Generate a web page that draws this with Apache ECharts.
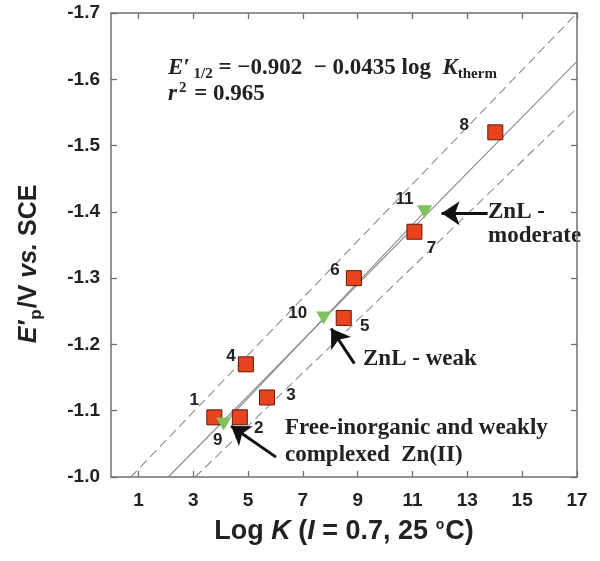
<!DOCTYPE html>
<html>
<head>
<meta charset="utf-8">
<script src="https://cdn.jsdelivr.net/npm/echarts@6/dist/echarts.min.js"></script>
<style>
  html, body { margin: 0; padding: 0; background: #fff; }
  #main { width: 600px; height: 561px; }
</style>
</head>
<body>
<div id="main"></div>
<script>
// squares: [log K, E'p, label]
const squarePoints = [
  [3.77, -1.09, '1'],
  [4.70, -1.09, '2'],
  [5.69, -1.12, '3'],
  [4.92, -1.17, '4'],
  [8.49, -1.24, '5'],
  [8.86, -1.30, '6'],
  [11.07, -1.37, '7'],
  [14.02, -1.52, '8']
];
// triangles (ZnL complexes)
const trianglePoints = [
  [4.11, -1.08, '9'],
  [7.76, -1.24, '10'],
  [11.44, -1.40, '11']
];
// fit line and confidence band end points
const fitLine = [[2.09, -1.0], [17, -1.627]];
const upperBand = [[0.72, -1.0], [17, -1.70]];
const lowerBand = [[3.07, -1.0], [17, -1.5565]];
const complexLine = [[4.11, -1.08], [11.44, -1.40]];

const xTicks = [1, 3, 5, 7, 9, 11, 13, 15, 17];

// label offsets (px) for the point numbers
const squareOffsets = [[-20, -17], [19, 11], [24, -2], [-15, -8], [21, 8], [-19, -8], [17, 17], [-31, -7]];
const triangleOffsets = [[-6, 16], [-26, -5], [-20, -13]];

const myChart = echarts.init(document.getElementById('main'));

const serif = '"Liberation Serif", "DejaVu Serif", serif';
const sans = '"Liberation Sans", Arial, sans-serif';
const axisColor = '#707070';

function numLabel(off) {
  return {
    show: true, position: 'inside', offset: off,
    formatter: p => p.value[2],
    color: '#222', fontFamily: sans, fontWeight: 'bold', fontSize: 17
  };
}

function bandSeries(data, dashed) {
  return {
    type: 'line', data: data, showSymbol: false, silent: true,
    lineStyle: { color: '#8c8c8c', width: 1.1, type: dashed ? [9, 5] : 'solid' },
    z: 1
  };
}

const option = {
  backgroundColor: '#fff',
  animation: false,
  grid: { left: 111, right: 23, top: 13, bottom: 84 },
  xAxis: [{
    type: 'value', min: 0, max: 17,
    name: '{n|Log }{i|K}{n| (}{i|I}{n| = 0.7, 25 }{sup|o}{n|C)}',
    nameLocation: 'middle', nameGap: 41,
    nameTextStyle: {
      rich: {
        n: { fontFamily: sans, fontSize: 27, fontWeight: 'bold', color: '#222' },
        i: { fontFamily: sans, fontSize: 27, fontWeight: 'bold', fontStyle: 'italic', color: '#222' },
        sup: { fontFamily: sans, fontSize: 14, fontWeight: 'bold', color: '#222', padding: [0, 1, 14, 0] }
      }
    },
    axisLine: { show: true, lineStyle: { color: axisColor, width: 1.5 } },
    axisTick: { show: true, inside: true, length: 6, customValues: xTicks, lineStyle: { color: axisColor, width: 1.3 } },
    axisLabel: {
      customValues: xTicks, margin: 14,
      color: '#222', fontFamily: sans, fontWeight: 'bold', fontSize: 19
    },
    splitLine: { show: false }
  }, {
    type: 'value', min: 0, max: 17, position: 'top',
    axisLine: { show: true, onZero: false, lineStyle: { color: axisColor, width: 1.5 } },
    axisTick: { show: true, inside: true, length: 6, customValues: xTicks, lineStyle: { color: axisColor, width: 1.3 } },
    axisLabel: { show: false },
    splitLine: { show: false }
  }],
  yAxis: [{
    type: 'value', min: -1.7, max: -1.0, interval: 0.1, inverse: true,
    name: "{i|E′}{sub|p}{n|/V }{i|vs.}{n| SCE}",
    nameLocation: 'middle', nameGap: 66, nameRotate: 90,
    nameTextStyle: {
      padding: [0, 38, 0, 0],
      rich: {
        n: { fontFamily: sans, fontSize: 25, fontWeight: 'bold', color: '#222' },
        i: { fontFamily: sans, fontSize: 25, fontWeight: 'bold', fontStyle: 'italic', color: '#222' },
        sub: { fontFamily: sans, fontSize: 17, fontWeight: 'bold', color: '#222', padding: [14, 1, 0, 1] }
      }
    },
    axisLine: { show: true, onZero: false, lineStyle: { color: axisColor, width: 1.5 } },
    axisTick: { show: true, inside: true, length: 6, lineStyle: { color: axisColor, width: 1.3 } },
    axisLabel: {
      margin: 11, formatter: v => v.toFixed(1),
      color: '#222', fontFamily: sans, fontWeight: 'bold', fontSize: 19
    },
    splitLine: { show: false }
  }, {
    type: 'value', min: -1.7, max: -1.0, interval: 0.1, inverse: true, position: 'right',
    axisLine: { show: true, onZero: false, lineStyle: { color: axisColor, width: 1.5 } },
    axisTick: { show: true, inside: true, length: 6, lineStyle: { color: axisColor, width: 1.3 } },
    axisLabel: { show: false },
    splitLine: { show: false }
  }],
  series: [
    bandSeries(upperBand, true),
    bandSeries(lowerBand, true),
    bandSeries(fitLine, false),
    bandSeries(complexLine, false),
    {
      type: 'line', data: [], silent: true,
      markLine: {
        silent: true, symbol: ['none', 'arrow'], symbolSize: 18,
        lineStyle: { color: '#111', width: 3, type: 'solid' },
        label: { show: false },
        data: [
          [{ coord: [13.74, -1.398] }, { coord: [12.06, -1.398] }],
          [{ coord: [8.88, -1.171] }, { coord: [8.03, -1.224] }],
          [{ coord: [6.02, -1.030] }, { coord: [4.38, -1.077] }]
        ]
      }
    },
    {
      type: 'scatter', symbol: 'rect', symbolSize: 15, z: 5,
      itemStyle: { color: '#e9431d', borderColor: '#5a1a0c', borderWidth: 1, opacity: 1 },
      data: squarePoints.map((p, i) => ({ value: p, label: numLabel(squareOffsets[i]) }))
    },
    {
      type: 'scatter', symbol: 'triangle', symbolRotate: 180, symbolSize: [15, 13], z: 6,
      itemStyle: { color: '#7dc25b', opacity: 1 },
      data: trianglePoints.map((p, i) => ({ value: p, label: numLabel(triangleOffsets[i]) }))
    }
  ],
  graphic: [
    {
      type: 'text', left: 168, top: 57,
      style: {
        text: "{i|E′}{sub| 1/2}{n| = −0.902  − 0.0435 log  }{i|K}{sub|therm}",
        rich: {
          n: { fontFamily: serif, fontSize: 23, fontWeight: 'bold', fill: '#222' },
          i: { fontFamily: serif, fontSize: 23, fontWeight: 'bold', fontStyle: 'italic', fill: '#222' },
          sub: { fontFamily: serif, fontSize: 15, fontWeight: 'bold', fill: '#222', padding: [12, 0, 0, 0] }
        }
      }
    },
    {
      type: 'text', left: 168, top: 81,
      style: {
        text: "{i|r}{sup|2}{n| = 0.965}",
        rich: {
          n: { fontFamily: serif, fontSize: 23, fontWeight: 'bold', fill: '#222' },
          i: { fontFamily: serif, fontSize: 23, fontWeight: 'bold', fontStyle: 'italic', fill: '#222' },
          sup: { fontFamily: serif, fontSize: 15, fontWeight: 'bold', fill: '#222', padding: [0, 2, 12, 2] }
        }
      }
    },
    {
      type: 'text', left: 488, top: 200,
      style: { text: 'ZnL -\nmoderate', lineHeight: 24, fontFamily: serif, fontSize: 23, fontWeight: 'bold', fill: '#222' }
    },
    {
      type: 'text', left: 363, top: 348,
      style: { text: 'ZnL - weak', fontFamily: serif, fontSize: 23, fontWeight: 'bold', fill: '#222' }
    },
    {
      type: 'text', left: 285, top: 415,
      style: { text: 'Free-inorganic and weakly\ncomplexed  Zn(II)', lineHeight: 27, fontFamily: serif, fontSize: 23, fontWeight: 'bold', fill: '#222' }
    }
  ]
};

myChart.setOption(option);
</script>
</body>
</html>
